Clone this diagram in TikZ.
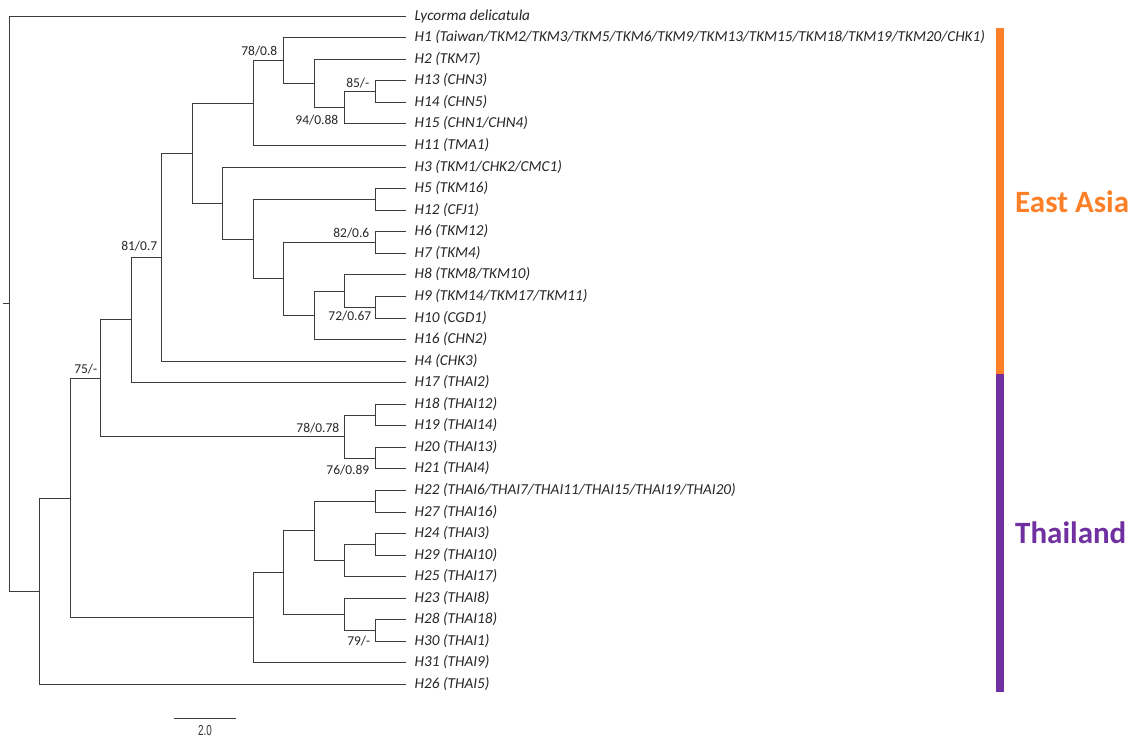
\documentclass[tikz,border=0pt]{standalone}
\usepackage{fontspec}
\setmainfont{Carlito}
\newfontfamily\barfont{Liberation Sans}
\usetikzlibrary{calc}
\definecolor{eaorange}{RGB}{253,127,39}
\definecolor{thpurple}{RGB}{112,48,160}
\definecolor{treegray}{RGB}{60,60,60}
\newcommand\drawclade[3]{\draw[br] (#2) -- (#2 -| #1) -- (#3 -| #1) -- (#3);}
\newcommand\treenode[3]{\coordinate (#1) at ({round(#2)+0.5},{round(#3)+0.5});}
\begin{document}
\begin{tikzpicture}[x=1pt,y=-1pt,
  br/.style={draw=treegray,line width=1.6pt,line cap=rect},
  leaflab/.style={anchor=base west,inner sep=0pt,xshift=9pt,yshift=-4.4pt,font=\fontsize{15.2}{17}\selectfont\itshape,text=black!85},
  boot/.style={inner sep=0pt,font=\fontsize{13.5}{15}\selectfont,text=black!85},
  region/.style={inner sep=0pt,anchor=base west,font=\fontsize{31}{36}\selectfont\bfseries}]
\useasboundingbox (0,0) rectangle (1140,738);
% leaves
\foreach \i/\lab in {0/{Lycorma delicatula},
 1/{H1 (Taiwan/TKM2/TKM3/TKM5/TKM6/TKM9/TKM13/TKM15/TKM18/TKM19/TKM20/CHK1)},
 2/{H2 (TKM7)},3/{H13 (CHN3)},4/{H14 (CHN5)},5/{H15 (CHN1/CHN4)},6/{H11 (TMA1)},
 7/{H3 (TKM1/CHK2/CMC1)},8/{H5 (TKM16)},9/{H12 (CFJ1)},10/{H6 (TKM12)},11/{H7 (TKM4)},
 12/{H8 (TKM8/TKM10)},13/{H9 (TKM14/TKM17/TKM11)},14/{H10 (CGD1)},15/{H16 (CHN2)},
 16/{H4 (CHK3)},17/{H17 (THAI2)},18/{H18 (THAI12)},19/{H19 (THAI14)},20/{H20 (THAI13)},
 21/{H21 (THAI4)},22/{H22 (THAI6/THAI7/THAI11/THAI15/THAI19/THAI20)},23/{H27 (THAI16)},
 24/{H24 (THAI3)},25/{H29 (THAI10)},26/{H25 (THAI17)},27/{H23 (THAI8)},28/{H28 (THAI18)},
 29/{H30 (THAI1)},30/{H31 (THAI9)},31/{H26 (THAI5)}}{
  \coordinate (l\i) at (405.5,{round(15.7+21.56*\i)+0.5});
  \node[leaflab] (t\i) at (l\i) {\lab};
}
% internal nodes
\treenode{nM}{374.52}{91.16}
\treenode{nL}{344.06}{107.33}
\treenode{nK}{313.6}{83.08}
\treenode{nJ}{283.14}{60.17}
\treenode{nH}{252.68}{102.62}
\treenode{nO}{374.52}{198.96}
\treenode{nQ}{374.52}{242.08}
\treenode{nT}{374.52}{306.76}
\treenode{nS}{344.06}{290.59}
\treenode{nR}{313.6}{314.85}
\treenode{nP}{283.14}{278.47}
\treenode{nN}{252.68}{238.72}
\treenode{nI}{222.22}{202.67}
\treenode{nG}{191.76}{152.65}
\treenode{nF}{161.3}{256.66}
\treenode{nD}{130.84}{319.44}
\treenode{nU}{374.52}{414.56}
\treenode{nV}{374.52}{457.68}
\treenode{nE}{344.06}{436.12}
\treenode{nC}{100.38}{377.78}
\treenode{nZ}{374.52}{500.8}
\treenode{nBB}{374.52}{543.92}
\treenode{nAA}{344.06}{560.09}
\treenode{nX}{313.6}{530.45}
\treenode{nCC}{374.52}{630.16}
\treenode{nY}{344.06}{613.99}
\treenode{nW}{283.14}{572.22}
\treenode{nT1}{252.68}{617.36}
\treenode{nB}{69.92}{497.57}
\treenode{nA}{39.46}{590.82}
\treenode{nRoot}{9}{303.26}
\treenode{stub}{3}{303.26}
% clades
\drawclade{nM}{l3}{l4}
\drawclade{nL}{nM}{l5}
\drawclade{nK}{l2}{nL}
\drawclade{nJ}{l1}{nK}
\drawclade{nH}{nJ}{l6}
\drawclade{nO}{l8}{l9}
\drawclade{nQ}{l10}{l11}
\drawclade{nT}{l13}{l14}
\drawclade{nS}{l12}{nT}
\drawclade{nR}{nS}{l15}
\drawclade{nP}{nQ}{nR}
\drawclade{nN}{nO}{nP}
\drawclade{nI}{l7}{nN}
\drawclade{nG}{nH}{nI}
\drawclade{nF}{nG}{l16}
\drawclade{nD}{nF}{l17}
\drawclade{nU}{l18}{l19}
\drawclade{nV}{l20}{l21}
\drawclade{nE}{nU}{nV}
\drawclade{nC}{nD}{nE}
\drawclade{nZ}{l22}{l23}
\drawclade{nBB}{l24}{l25}
\drawclade{nAA}{nBB}{l26}
\drawclade{nX}{nZ}{nAA}
\drawclade{nCC}{l28}{l29}
\drawclade{nY}{l27}{nCC}
\drawclade{nW}{nX}{nY}
\drawclade{nT1}{nW}{l30}
\drawclade{nB}{nC}{nT1}
\drawclade{nA}{nB}{l31}
\drawclade{nRoot}{l0}{nA}
\draw[br] (nRoot) -- (stub);
% support values
\node[boot,anchor=base east] (b1) at ($(nJ)+(-6,-5)$) {78/0.8};
\node[boot,anchor=base east] (b2) at ($(nM)+(-6,-4)$) {85/-};
\node[boot,anchor=base east] (b3) at ($(l5 -| nL)+(-6,1)$) {94/0.88};
\node[boot,anchor=base east] (b4) at ($(nQ)+(-6,-5)$) {82/0.6};
\node[boot,anchor=base east] (b5) at ($(l14 -| nT)+(-4,2)$) {72/0.67};
\node[boot,anchor=base east] (b6) at ($(nF)+(-4,-7)$) {81/0.7};
\node[boot,anchor=base east] (b7) at ($(nC)+(-3,-5)$) {75/-};
\node[boot,anchor=base east] (b8) at ($(nE)+(-5,-4)$) {78/0.78};
\node[boot,anchor=base east] (b9) at ($(l21 -| nV)+(-6,5.5)$) {76/0.89};
\node[boot,anchor=base east] (b10) at ($(l29 -| nCC)+(-5,4)$) {79/-};
% scale bar
\coordinate (sb1) at (174,718.5);
\coordinate (sb2) at (236,718.5);
\draw[draw=treegray,line width=1.6pt] (sb1) -- (sb2);
\node[inner sep=0pt,anchor=base,font=\barfont\fontsize{14.5}{16}\selectfont,text=black!80] (sbl) at (205,735) {\scalebox{0.68}[1]{2.0}};
% region bars
\fill[eaorange] (996,28) rectangle (1004,374);
\fill[thpurple] (996,374) rectangle (1004,692);
\node[region,text=eaorange] (ea) at (1015,212) {East Asia};
\node[region,text=thpurple] (th) at (1015,543) {Thailand};
\end{tikzpicture}
\end{document}
